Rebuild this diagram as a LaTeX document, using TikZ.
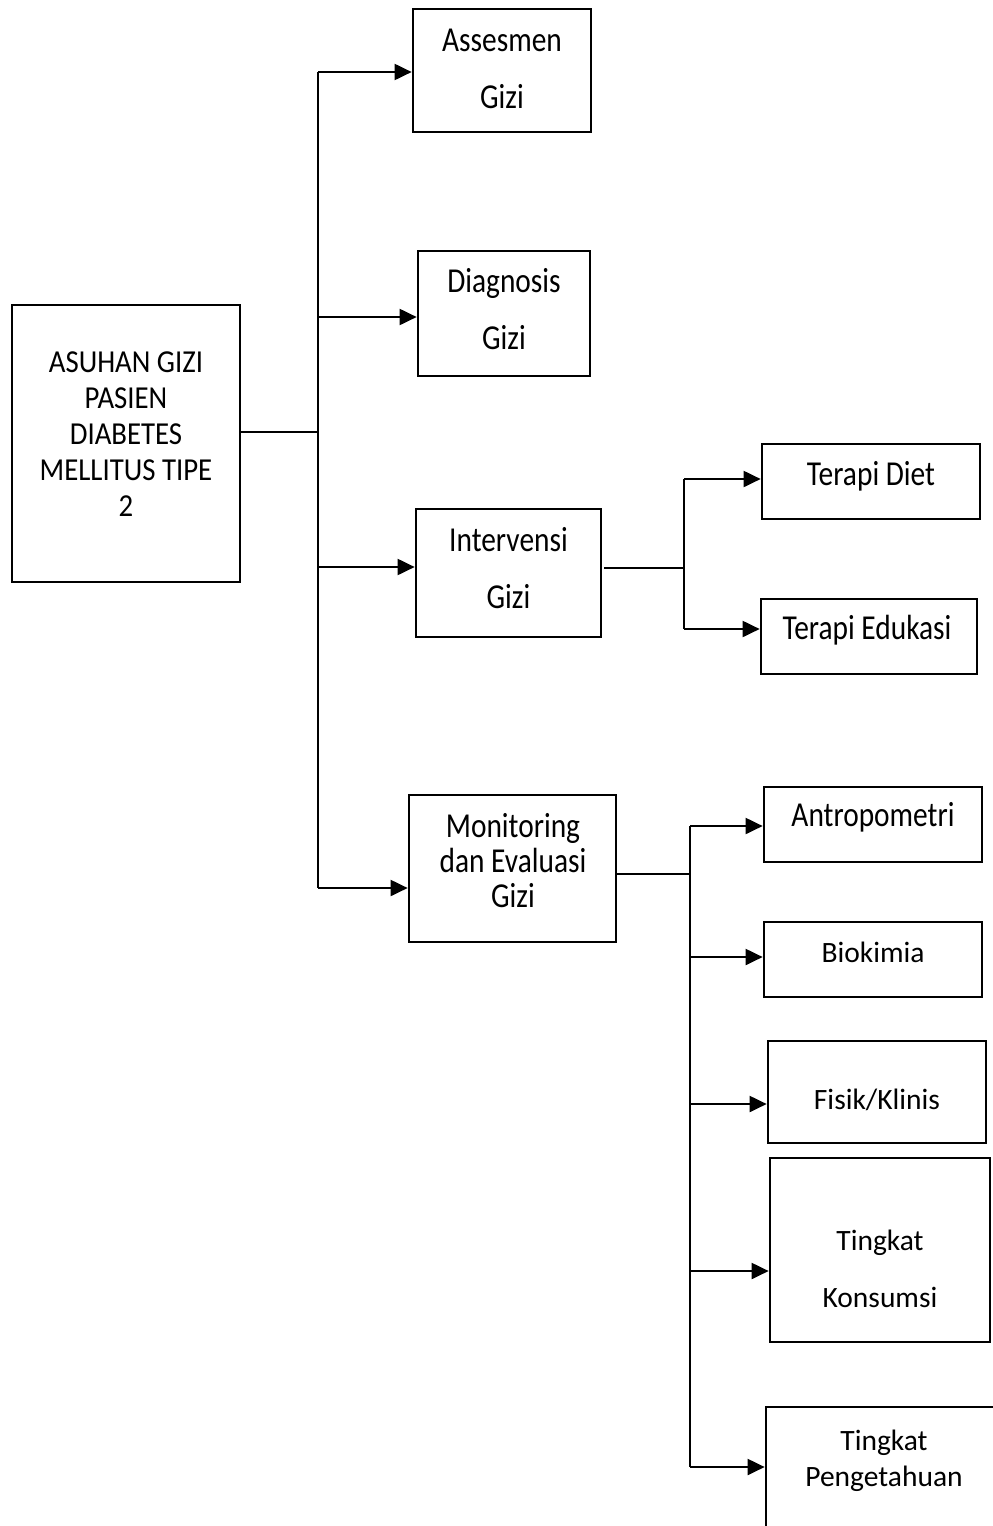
\documentclass[tikz,border=0pt]{standalone}
\usepackage{fontspec}
\setmainfont{Carlito}
\usetikzlibrary{arrows.meta}
\begin{document}
\begin{tikzpicture}[x=1pt,y=1pt,
  box/.style={draw,line width=2.7pt,inner sep=0pt},
  conn/.style={line width=2pt},
  arr/.style={line width=2pt,-{Triangle[length=17pt,width=16pt]}},
  tallw/.style={font=\fontsize{35}{57}\selectfont,xscale=0.84,transform shape,align=center,inner sep=0pt},
  tallc/.style={font=\fontsize{35}{35}\selectfont,xscale=0.84,transform shape,align=center,inner sep=0pt},
  mainl/.style={font=\fontsize{32}{36}\selectfont,xscale=0.9,transform shape,align=center,inner sep=0pt},
  normw/.style={font=\fontsize{29.5}{57}\selectfont,align=center,inner sep=0pt},
  normc/.style={font=\fontsize{29.5}{36}\selectfont,align=center,inner sep=0pt}]
\useasboundingbox (0,0) rectangle (993,-1526);
\clip (0,0) rectangle (993,-1526);
% boxes
\node[box,minimum width=228pt,minimum height=277pt] (main) at (126,-443.5) {};
\node[box,minimum width=178pt,minimum height=123pt] (ass) at (502,-70.5) {};
\node[box,minimum width=172pt,minimum height=125pt] (dia) at (504,-313.5) {};
\node[box,minimum width=185pt,minimum height=128pt] (int) at (508.5,-573) {};
\node[box,minimum width=207pt,minimum height=147pt] (mon) at (512.5,-868.5) {};
\node[box,minimum width=218pt,minimum height=75pt] (tdiet) at (871,-481.5) {};
\node[box,minimum width=216pt,minimum height=75pt] (tedu) at (869,-636.5) {};
\node[box,minimum width=218pt,minimum height=75pt] (antro) at (873,-824.5) {};
\node[box,minimum width=218pt,minimum height=75pt] (bio) at (873,-959.5) {};
\node[box,minimum width=218pt,minimum height=102pt] (fis) at (877,-1092) {};
\node[box,minimum width=220pt,minimum height=184pt] (kon) at (880,-1250) {};
\node[box,minimum width=234pt,minimum height=153pt] (pen) at (883,-1483.5) {};
% texts
\node[mainl] (mainT) at (126,-434) {ASUHAN GIZI\\PASIEN\\DIABETES\\MELLITUS TIPE\\2};
\node[tallw] (assT) at (502,-69) {Assesmen\\Gizi};
\node[tallw] (diaT) at (504,-309.5) {Diagnosis\\Gizi};
\node[tallw] (intT) at (508.5,-568.5) {Intervensi\\Gizi};
\node[tallc] (monT) at (513,-861) {Monitoring\\dan Evaluasi\\Gizi};
\node[tallw] (tdietT) at (871,-476) {Terapi Diet};
\node[tallw] (teduT) at (867,-630) {Terapi Edukasi};
\node[tallw] (antroT) at (873,-817) {Antropometri};
\node[normw] (bioT) at (873,-952) {Biokimia};
\node[normw] (fisT) at (877,-1100) {Fisik/Klinis};
\node[normw] (konT) at (880,-1268.5) {Tingkat\\Konsumsi};
\node[normc] (penT) at (884,-1461) {Tingkat\\Pengetahuan};
% main trunk
\coordinate (m1) at (318,-432);
\coordinate (t1) at (318,-72);
\coordinate (t2) at (318,-317);
\coordinate (t3) at (318,-567);
\coordinate (t4) at (318,-888);
\draw[conn] (main.east |- m1) -- (m1);
\draw[conn] (t1) -- (t4);
\draw[arr] (t1) -- (t1 -| ass.west);
\draw[arr] (t2) -- (t2 -| dia.west);
\draw[arr] (t3) -- (t3 -| int.west);
\draw[arr] (t4) -- (t4 -| mon.west);
% intervensi branch
\coordinate (i0) at (684,-568);
\coordinate (i1) at (684,-479);
\coordinate (i2) at (684,-629);
\draw[conn] (604,-568) coordinate (i00) -- (i0);
\draw[conn] (i1) -- (i2);
\draw[arr] (i1) -- (i1 -| tdiet.west);
\draw[arr] (i2) -- (i2 -| tedu.west);
% monitoring branch
\coordinate (k0) at (690,-874);
\coordinate (k1) at (690,-826);
\coordinate (k2) at (690,-957);
\coordinate (k3) at (690,-1104);
\coordinate (k4) at (690,-1271);
\coordinate (k5) at (690,-1467);
\draw[conn] (mon.east |- k0) -- (k0);
\draw[conn] (k1) -- (k5);
\draw[arr] (k1) -- (k1 -| antro.west);
\draw[arr] (k2) -- (k2 -| bio.west);
\draw[arr] (k3) -- (k3 -| fis.west);
\draw[arr] (k4) -- (k4 -| kon.west);
\draw[arr] (k5) -- (k5 -| pen.west);
\end{tikzpicture}
\end{document}
